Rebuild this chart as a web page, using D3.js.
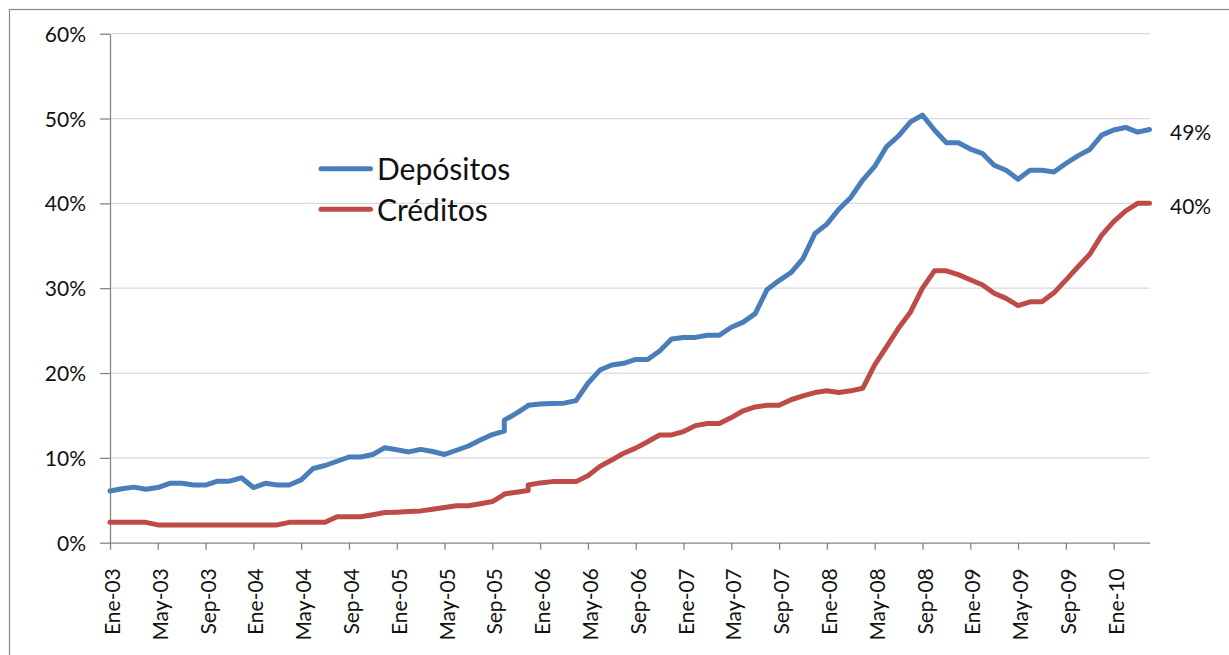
<!DOCTYPE html>
<html>
<head>
<meta charset="utf-8">
<script src="https://cdn.jsdelivr.net/npm/d3@7"></script>
<style>
  html, body { margin: 0; padding: 0; background: #ffffff; }
  svg { display: block; font-family: Lato, "Open Sans", sans-serif; }
</style>
</head>
<body>
<svg id="chart" width="1229" height="655"></svg>
<script>
// Monthly observations; a month listed twice holds two readings of that month.
const dates = [
  "2003-01","2003-02","2003-03","2003-04","2003-05","2003-06","2003-07","2003-08","2003-09","2003-10","2003-11","2003-12",
  "2004-01","2004-02","2004-03","2004-04","2004-05","2004-06","2004-07","2004-08","2004-09","2004-10","2004-11","2004-12",
  "2005-01","2005-02","2005-03","2005-04","2005-05","2005-06","2005-07","2005-08","2005-09","2005-10","2005-10","2005-11","2005-12","2005-12",
  "2006-01","2006-02","2006-03","2006-04","2006-05","2006-06","2006-07","2006-08","2006-09","2006-10","2006-11","2006-12",
  "2007-01","2007-02","2007-03","2007-04","2007-05","2007-06","2007-07","2007-08","2007-09","2007-10","2007-11","2007-12",
  "2008-01","2008-02","2008-03","2008-04","2008-05","2008-06","2008-07","2008-08","2008-09","2008-10","2008-11","2008-12",
  "2009-01","2009-02","2009-03","2009-04","2009-05","2009-06","2009-07","2009-08","2009-09","2009-10","2009-11","2009-12",
  "2010-01","2010-02","2010-03","2010-04"
];

// Share in dollars, percent
const depositos = [
  6.1, 6.35, 6.55, 6.3, 6.5, 7.0, 7.0, 6.8, 6.8, 7.25, 7.25, 7.65,
  6.5, 7.0, 6.8, 6.8, 7.4, 8.75, 9.1, 9.6, 10.1, 10.1, 10.4, 11.2,
  10.95, 10.7, 11.0, 10.75, 10.4, 10.9, 11.4, 12.1, 12.75, 13.15, 14.45, 15.25, 16.15, 16.2,
  16.35, 16.4, 16.45, 16.75, 18.8, 20.35, 20.95, 21.15, 21.6, 21.6, 22.6, 24.0,
  24.2, 24.2, 24.45, 24.45, 25.4, 26.0, 27.0, 29.85, 30.9, 31.85, 33.5, 36.45,
  37.55, 39.3, 40.7, 42.75, 44.35, 46.7, 47.95, 49.6, 50.4, 48.65, 47.15, 47.15,
  46.4, 45.9, 44.5, 43.9, 42.85, 43.9, 43.9, 43.7, 44.7, 45.6, 46.35, 48.05,
  48.65, 48.95, 48.4, 48.7
];

const creditos = [
  2.4, 2.4, 2.4, 2.4, 2.1, 2.1, 2.1, 2.1, 2.1, 2.1, 2.1, 2.1,
  2.1, 2.1, 2.1, 2.4, 2.4, 2.4, 2.4, 3.05, 3.05, 3.05, 3.3, 3.55,
  3.6, 3.67, 3.75, 3.95, 4.15, 4.35, 4.35, 4.6, 4.85, 5.7, 5.75, 5.95, 6.15, 6.8,
  7.05, 7.2, 7.2, 7.2, 7.9, 9.0, 9.75, 10.55, 11.15, 11.9, 12.7, 12.7,
  13.1, 13.8, 14.05, 14.05, 14.75, 15.55, 16.0, 16.2, 16.2, 16.85, 17.3, 17.7,
  17.9, 17.7, 17.9, 18.2, 20.95, 23.1, 25.3, 27.2, 30.0, 32.05, 32.05, 31.6,
  31.0, 30.4, 29.4, 28.8, 27.95, 28.4, 28.4, 29.45, 30.95, 32.5, 34.0, 36.25,
  37.85, 39.1, 40.0, 40.0
];

const seriesNames = ["Depósitos", "Créditos"];
const seriesColors = ["#4a7ebb", "#be4b48"];
const monthNames = ["Ene","Feb","Mar","Abr","May","Jun","Jul","Ago","Sep","Oct","Nov","Dic"];
const yTicks = [0, 10, 20, 30, 40, 50, 60];

const svg = d3.select("#chart");
const plot = { left: 110, right: 1149.5, top: 33.7, bottom: 542.7 };

// Outer chart frame
svg.append("rect")
  .attr("x", 9.5).attr("y", 9.5)
  .attr("width", 1240).attr("height", 660)
  .attr("fill", "none").attr("stroke", "#8a8a8a").attr("stroke-width", 1.2);

// Each calendar month gets the same width on the axis
const months = Array.from(new Set(dates));
const x = d3.scalePoint().domain(months).range([plot.left, plot.right]).padding(0);
const y = d3.scaleLinear().domain([0, 60]).range([plot.bottom, plot.top]);

// Horizontal gridlines
svg.append("g")
  .selectAll("line")
  .data(yTicks.filter(d => d > 0))
  .join("line")
  .attr("x1", plot.left).attr("x2", plot.right)
  .attr("y1", d => y(d)).attr("y2", d => y(d))
  .attr("stroke", "#d9d9d9").attr("stroke-width", 1.3);

// Y axis
const yAxis = svg.append("g")
  .attr("transform", `translate(${plot.left},0)`)
  .call(d3.axisLeft(y).tickValues(yTicks).tickSize(10).tickSizeOuter(0).tickPadding(14)
    .tickFormat(d => d + "%"));
yAxis.select(".domain").attr("stroke", "#868686").attr("stroke-width", 1.3);
yAxis.selectAll(".tick line").attr("stroke", "#868686").attr("stroke-width", 1.3);
yAxis.selectAll(".tick text")
  .attr("font-size", 21).attr("fill", "#111").attr("font-family", "Lato")
  .attr("dy", "0.36em");

// X axis, a tick every four months
const tickMonths = months.filter((m, i) => i % 4 === 0);
const fmtMonth = m => {
  const [yy, mm] = m.split("-");
  return monthNames[+mm - 1] + "-" + yy.slice(2);
};
const xAxis = svg.append("g")
  .attr("transform", `translate(0,${plot.bottom})`)
  .call(d3.axisBottom(x).tickValues(tickMonths).tickSize(7).tickSizeOuter(0).tickFormat(fmtMonth));
xAxis.select(".domain").attr("stroke", "#868686").attr("stroke-width", 1.3);
xAxis.selectAll(".tick line").attr("stroke", "#868686").attr("stroke-width", 1.3);
xAxis.selectAll(".tick text")
  .attr("font-size", 21).attr("fill", "#111").attr("font-family", "Lato")
  .attr("text-anchor", "end")
  .attr("transform", "translate(2,25.5) rotate(-90)")
  .attr("x", 0).attr("y", 0).attr("dy", "0.36em");

// Series lines
const seriesValues = [depositos, creditos];
const line = d3.line()
  .x((d, i) => x(dates[i]))
  .y(d => y(d));

seriesValues.forEach((vals, k) => {
  svg.append("path")
    .datum(vals)
    .attr("d", line)
    .attr("fill", "none")
    .attr("stroke", seriesColors[k])
    .attr("stroke-width", 5)
    .attr("stroke-linejoin", "round")
    .attr("stroke-linecap", "round");

  // Last value label at the right end
  const last = vals[vals.length - 1];
  svg.append("text")
    .attr("x", 1170)
    .attr("y", y(last) + 3)
    .attr("dy", "0.36em")
    .attr("font-size", 21).attr("fill", "#111")
    .text(d3.format(".0%")(last / 100));
});

// Legend
const legend = svg.append("g");
seriesNames.forEach((name, k) => {
  const ly = 168.7 + k * 40.6;
  legend.append("line")
    .attr("x1", 321).attr("x2", 370.5)
    .attr("y1", ly).attr("y2", ly)
    .attr("stroke", seriesColors[k]).attr("stroke-width", 5)
    .attr("stroke-linecap", "round");
  legend.append("text")
    .attr("x", 377).attr("y", ly + 11.5)
    .attr("font-size", 30).attr("fill", "#111")
    .text(name);
});
</script>
</body>
</html>
